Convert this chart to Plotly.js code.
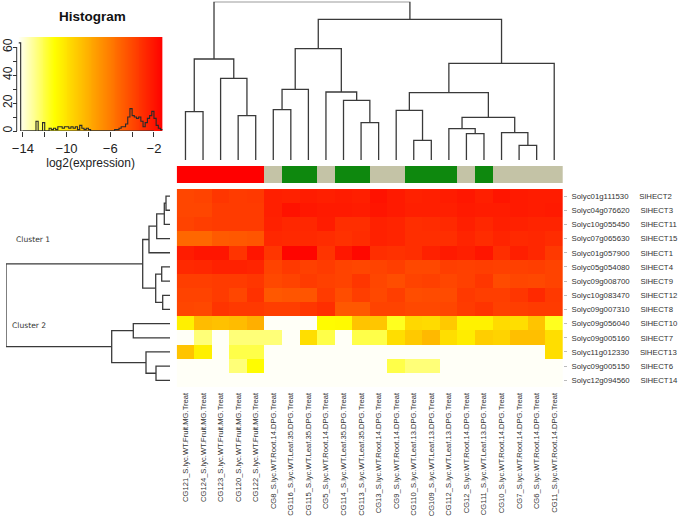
<!DOCTYPE html>
<html><head><meta charset="utf-8">
<script src="https://cdn.plot.ly/plotly-3.0.1.min.js"></script>
<style>html,body{margin:0;padding:0;background:#fff}#chart{width:685px;height:520px}</style>
</head><body><div id="chart"></div>
<script>
// ---- data ----
const colLabels = [
 'CG121_S.lyc.WT.Fruit.MG.Treat','CG124_S.lyc.WT.Fruit.MG.Treat','CG123_S.lyc.WT.Fruit.MG.Treat',
 'CG120_S.lyc.WT.Fruit.MG.Treat','CG122_S.lyc.WT.Fruit.MG.Treat','CG8_S.lyc.WT.Root.14.DPG.Treat',
 'CG116_S.lyc.WT.Leaf.35.DPG.Treat','CG115_S.lyc.WT.Leaf.35.DPG.Treat','CG5_S.lyc.WT.Root.14.DPG.Treat',
 'CG114_S.lyc.WT.Leaf.35.DPG.Treat','CG113_S.lyc.WT.Leaf.35.DPG.Treat','CG13_S.lyc.WT.Root.14.DPG.Treat',
 'CG9_S.lyc.WT.Root.14.DPG.Treat','CG110_S.lyc.WT.Leaf.13.DPG.Treat','CG109_S.lyc.WT.Leaf.13.DPG.Treat',
 'CG112_S.lyc.WT.Leaf.13.DPG.Treat','CG12_S.lyc.WT.Root.14.DPG.Treat','CG111_S.lyc.WT.Leaf.13.DPG.Treat',
 'CG10_S.lyc.WT.Root.14.DPG.Treat','CG7_S.lyc.WT.Root.14.DPG.Treat','CG6_S.lyc.WT.Root.14.DPG.Treat',
 'CG11_S.lyc.WT.Root.14.DPG.Treat'];
const colTissue = ['Fruit','Fruit','Fruit','Fruit','Fruit','Root','Leaf','Leaf','Root','Leaf','Leaf',
 'Root','Root','Leaf','Leaf','Leaf','Root','Leaf','Root','Root','Root','Root'];
const tissueNames = ['Fruit','Leaf','Root'];
const tissueColors = ['#FF0000','#0E880E','#C4C3A6'];

const rowGenes = ['Solyc01g111530','Solyc04g076620','Solyc10g055450','Solyc07g065630','Solyc01g057900',
 'Solyc05g054080','Solyc09g008700','Solyc10g083470','Solyc09g007310','Solyc09g056040','Solyc09g005160',
 'Solyc11g012330','Solyc09g005150','Solyc12g094560'];
const rowNames = ['SlHECT2','SlHECT3','SlHECT11','SlHECT15','SlHECT1','SlHECT4','SlHECT9','SlHECT12',
 'SlHECT8','SlHECT10','SlHECT7','SlHECT13','SlHECT6','SlHECT14'];

// log2(expression), rows top->bottom, columns left->right
const expr = [
 [-3.9,-3.8,-3.3,-3.5,-3.4,-2.4,-2.5,-2.3,-2.4,-2.3,-2.4,-1.9,-2.2,-2.5,-2.4,-2.3,-2.1,-2.4,-2.0,-2.2,-2.3,-2.3],
 [-3.9,-3.9,-3.5,-3.5,-3.5,-2.4,-1.9,-2.1,-2.2,-2.2,-2.3,-2.0,-2.2,-2.4,-2.4,-2.4,-2.2,-2.3,-2.3,-2.2,-2.3,-2.2],
 [-3.8,-3.6,-3.5,-3.5,-3.5,-2.5,-2.7,-2.7,-2.3,-3.0,-3.0,-2.5,-2.6,-3.0,-2.9,-2.8,-2.4,-2.7,-2.4,-2.5,-2.6,-2.6],
 [-5.2,-5.2,-4.7,-4.6,-4.5,-2.7,-2.8,-2.8,-2.9,-3.1,-2.9,-2.5,-2.6,-3.0,-3.0,-3.0,-2.6,-2.9,-2.6,-2.8,-2.7,-2.9],
 [-2.3,-2.0,-2.0,-3.2,-2.0,-3.3,-1.4,-1.4,-3.2,-2.1,-1.5,-3.0,-3.1,-3.0,-2.5,-2.2,-2.4,-2.0,-3.0,-2.4,-2.7,-3.4],
 [-2.8,-2.7,-2.5,-2.5,-2.6,-3.8,-3.4,-3.7,-3.5,-3.8,-3.9,-3.8,-3.6,-4.0,-4.0,-3.6,-3.7,-3.6,-3.7,-3.7,-3.6,-3.8],
 [-3.6,-3.6,-3.5,-3.5,-3.3,-4.0,-3.8,-3.5,-3.7,-3.8,-3.3,-3.9,-4.2,-3.8,-3.7,-3.9,-3.7,-3.3,-4.1,-3.9,-4.0,-3.8],
 [-3.8,-3.8,-3.5,-3.9,-3.1,-4.6,-4.5,-4.5,-3.5,-4.2,-3.6,-4.0,-3.6,-4.2,-4.1,-4.1,-3.4,-3.6,-3.6,-3.3,-2.8,-3.4],
 [-3.9,-4.0,-3.2,-3.4,-3.4,-3.6,-3.6,-3.3,-3.0,-4.6,-4.6,-3.8,-3.8,-4.0,-4.0,-3.9,-3.5,-3.2,-3.7,-3.6,-3.5,-3.5],
 [-10.5,-8.5,-8.7,-8.5,-8.0,-14.3,-14.3,-14.3,-11.0,-10.9,-8.8,-8.9,-11.5,-9.6,-9.7,-9.0,-10.6,-10.6,-9.7,-9.8,-8.8,-11.5],
 [-14.3,-12.65,-14.3,-12.65,-12.65,-12.65,-14.3,-9.8,-12.05,-14.3,-12.05,-12.05,-9.8,-9.0,-8.4,-9.8,-10.4,-9.2,-9.4,-8.6,-8.6,-9.8],
 [-8.8,-10.5,-14.3,-12.05,-12.05,-14.3,-14.3,-14.3,-14.3,-14.3,-14.3,-14.3,-14.3,-14.3,-14.3,-14.3,-14.3,-14.3,-14.3,-14.3,-14.3,-9.8],
 [-14.3,-14.3,-14.3,-12.65,-11.0,-14.3,-14.3,-14.3,-14.3,-14.3,-14.3,-14.3,-12.05,-12.65,-12.65,-14.3,-14.3,-14.3,-14.3,-14.3,-14.3,-14.3],
 [-14.3,-14.3,-14.3,-14.3,-14.3,-14.3,-14.3,-14.3,-14.3,-14.3,-14.3,-14.3,-14.3,-14.3,-14.3,-14.3,-14.3,-14.3,-14.3,-14.3,-14.3,-14.3]
];

// hclust-style merges: negative = leaf (1-based), positive = earlier merge; third = height
const colMerges = [
 [-1,-2,48.3],[-4,-5,44.3],[-3,2,81.7],[1,3,101],[-6,-7,50.3],[5,-8,70.7],[-11,-12,37.3],[-10,7,59.7],
 [-9,8,68],[6,9,111.3],[-14,-15,19.7],[-13,11,49.7],[-17,-18,26.3],[-16,13,31.3],[-20,-21,14.7],
 [-19,15,27.3],[14,16,42.7],[12,17,67.3],[18,-22,96.7],[10,19,140.7],[4,20,158.3]];
const rowMerges = [
 [-1,-2,4],[1,-3,5.7],[2,-4,13.3],[3,-5,21],[-6,-7,8.3],[-8,-9,7.3],[5,6,14.3],[4,7,27.3],
 [-10,-11,36.7],[-13,-14,14],[-12,10,24],[9,11,58.3],[8,12,164]];

// histogram of values (step outline): left bin edges and counts
const histEdges  = [-14.4,-14.2,-12.8,-12.6,-12.2,-12.0,-11.6,-11.4,-11.2,-11.0,-10.8,-10.4,-10.2,-9.8,-9.6,-9.4,-9.2,-9.0,-8.8,-8.6,-8.4,-8.2,-8.0,-7.8,-5.6,-5.2,-5.0,-4.6,-4.4,-4.2,-4.0,-3.8,-3.6,-3.4,-3.2,-3.0,-2.8,-2.6,-2.4,-2.2,-2.0,-1.8,-1.6,-1.4,-1.2];
const histCounts = [63,0,7,0,6,0,2,1,2,1,3,2,3,2,3,2,3,1,4,2,1,2,1,0,1,2,3,5,10,16,11,10,9,10,7,3,6,9,11,14,9,4,2,1,1];

const keyMin = -14.4, keyMax = -1.2;
const keyTicks = [-14,-12,-10,-8,-6,-4,-2];
const keyTickText = ['\u221214','','\u221210','','\u22126','','\u22122'];
const countTicks = [0,10,20,30,40,50,60];
const countTickText = ['0','','20','','40','','60'];

// ---- helpers ----
function dendro(merges){
  const pos=[], hgt=[], p=[], h=[];
  const node = id => id<0 ? [-id-1, 0] : [pos[id-1], hgt[id-1]];
  merges.forEach((m,i)=>{
    const [pa,ha]=node(m[0]), [pb,hb]=node(m[1]);
    p.push(pa,pa,pb,pb,null); h.push(ha,m[2],m[2],hb,null);
    pos[i]=(pa+pb)/2; hgt[i]=m[2];
  });
  return {p,h};
}
const heatScale = [[0,'#FFFFFF'],[0.25,'#FFFF00'],[1,'#FF0000']];
const W=685, H=520;
const px = v => v/W, py = v => 1 - v/H;
const FONT = 'Liberation Sans, Arial, Helvetica, sans-serif';

const colD = dendro(colMerges), rowD = dendro(rowMerges);
const colIdx = colLabels.map((_,i)=>i), rowIdx = rowGenes.map((_,i)=>i);
const rowText = rowGenes.map((g,i)=> g + '\u00a0\u00a0\u00a0\u00a0\u00a0' + rowNames[i]);

// color key gradient samples
const keySteps = 150, keyX = [], keyZ = [];
for (let i=0;i<=keySteps;i++){ keyX.push(keyMin + (keyMax-keyMin)*i/keySteps); }
for (let i=0;i<keySteps;i++){ keyZ.push((keyX[i]+keyX[i+1])/2); }

const traces = [
 {type:'heatmap', x:colIdx, y:rowIdx, z:expr, xaxis:'x', yaxis:'y', colorscale:heatScale,
  zmin:keyMin, zmax:keyMax, showscale:false, hoverinfo:'skip'},
 {type:'heatmap', x:colIdx, y:[0], z:[colTissue.map(t=>tissueNames.indexOf(t))], xaxis:'x', yaxis:'y2',
  colorscale:[[0,tissueColors[0]],[0.33,tissueColors[0]],[0.34,tissueColors[1]],[0.66,tissueColors[1]],[0.67,tissueColors[2]],[1,tissueColors[2]]],
  zmin:0, zmax:2, showscale:false, hoverinfo:'skip'},
 {type:'scatter', mode:'lines', x:colD.p, y:colD.h, xaxis:'x', yaxis:'y3',
  line:{color:'#3a3a3a', width:1.3}, hoverinfo:'skip', connectgaps:false},
 {type:'scatter', mode:'lines', x:rowD.h, y:rowD.p, xaxis:'x2', yaxis:'y',
  line:{color:'#3a3a3a', width:1.3}, hoverinfo:'skip', connectgaps:false},
 {type:'heatmap', x:keyX, y:[0,67.2], z:[keyZ], xaxis:'x3', yaxis:'y4', colorscale:heatScale,
  zmin:keyMin, zmax:keyMax, showscale:false, hoverinfo:'skip'},
 {type:'scatter', mode:'lines', x:histEdges, y:histCounts, xaxis:'x3', yaxis:'y4', line:{shape:'hv', color:'#2a2a2a', width:1.1}, hoverinfo:'skip'}
];

const hidden = {visible:false, showgrid:false, zeroline:false, fixedrange:true};
const layout = {
 width:W, height:H, margin:{l:0,r:0,t:0,b:0}, paper_bgcolor:'#fff', plot_bgcolor:'rgba(0,0,0,0)',
 showlegend:false, font:{family:FONT, color:'#222'},
 xaxis:{domain:[px(176.7), px(563)], range:[-0.5,21.5], anchor:'y', tickmode:'array', tickvals:colIdx,
   ticktext:colLabels, tickangle:-90, ticks:'', ticklabelstandoff:3, tickfont:{size:7.6, color:'#333', family:FONT},
   showgrid:false, zeroline:false, showline:false},
 yaxis:{domain:[py(387.4), py(189)], range:[13.5,-0.5], anchor:'x', side:'right', tickmode:'array', tickvals:rowIdx,
   ticktext:rowText, ticks:'outside', ticklen:3, tickcolor:'#bbbbbb', ticklabelstandoff:3,
   tickfont:{size:7.8, color:'#333', family:FONT}, showgrid:false, zeroline:false, showline:false},
 yaxis2:Object.assign({domain:[py(183), py(166)], range:[-0.5,0.5], anchor:'x'}, hidden),
 yaxis3:Object.assign({domain:[py(160), py(1.7)], range:[0,158.3], anchor:'x'}, hidden),
 xaxis2:Object.assign({domain:[px(6), px(170)], range:[164,0], anchor:'y'}, hidden),
 xaxis3:{domain:[px(18.5), px(162.7)], range:[keyMin,keyMax], anchor:'y4', tickmode:'array', tickvals:keyTicks,
   ticktext:keyTickText, ticks:'outside', ticklen:5, tickcolor:'#333', tickfont:{size:13, color:'#222'},
   showgrid:false, zeroline:false, showline:false,
   title:{text:'log2(expression)', font:{size:12, color:'#222'}, standoff:0}},
 yaxis4:{domain:[py(131), py(37)], range:[0,67.2], anchor:'free', position:px(16.7), tickmode:'array',
   tickvals:countTicks, ticktext:countTickText, ticks:'outside', ticklen:4, tickcolor:'#333', tickangle:-90,
   ticklabelstandoff:-4, tickfont:{size:12, color:'#222'}, showgrid:false, zeroline:false, showline:false},
 shapes:[
  {type:'line', xref:'x3', yref:'y4', x0:keyTicks[0], x1:keyTicks[keyTicks.length-1], y0:0, y1:0,
   line:{color:'#333', width:1}},
  {type:'line', xref:'paper', yref:'y4', x0:px(16.7), x1:px(16.7), y0:countTicks[0], y1:countTicks[countTicks.length-1],
   line:{color:'#333', width:1}}
 ],
 annotations:[
  {text:'<b>Histogram</b>', xref:'paper', yref:'paper', x:px(92), y:py(17), xanchor:'center', yanchor:'middle',
   showarrow:false, font:{size:13.5, color:'#111', family:FONT}},
  {text:'Cluster 1', xref:'paper', yref:'paper', x:px(14), y:py(239.5), xanchor:'left', showarrow:false,
   font:{size:7.6, color:'#333', family:'DejaVu Sans, Verdana, sans-serif'}},
  {text:'Cluster 2', xref:'paper', yref:'paper', x:px(10), y:py(325), xanchor:'left', showarrow:false,
   font:{size:7.6, color:'#333', family:'DejaVu Sans, Verdana, sans-serif'}}
 ]
};
Plotly.newPlot('chart', traces, layout, {staticPlot:true, displayModeBar:false});
</script></body></html>
